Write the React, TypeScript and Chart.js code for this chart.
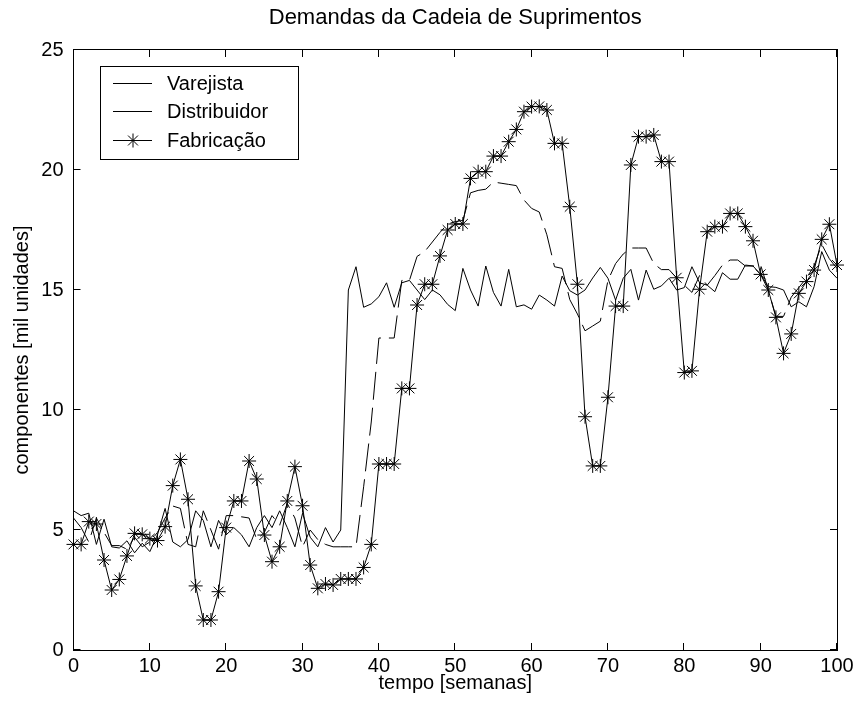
import React, { useEffect, useRef } from "react";
import { Chart, registerables } from "chart.js";

Chart.register(...registerables);

const weeks = [
  0, 1, 2, 3, 4, 5, 6, 7, 8, 9, 10, 11, 12, 13, 14, 15, 16, 17, 18, 19, 20,
  21, 22, 23, 24, 25, 26, 27, 28, 29, 30, 31, 32, 33, 34, 35, 36, 37, 38, 39, 40,
  41, 42, 43, 44, 45, 46, 47, 48, 49, 50, 51, 52, 53, 54, 55, 56, 57, 58, 59, 60,
  61, 62, 63, 64, 65, 66, 67, 68, 69, 70, 71, 72, 73, 74, 75, 76, 77, 78, 79, 80,
  81, 82, 83, 84, 85, 86, 87, 88, 89, 90, 91, 92, 93, 94, 95, 96, 97, 98, 99, 100,
];

const varejista = [
  5.8, 5.6, 5.7, 4.4, 5.45, 4.3, 4.25, 4.55, 4.05, 4.45, 4.1,
  4.8, 5.9, 4.5, 4.3, 4.6, 5.8, 5.4, 4.3, 5.4, 4.8,
  5.1, 4.8, 4.3, 5.1, 5.6, 5.1, 5.8, 5.1, 4.3, 5.7,
  4.7, 4.3, 5.1, 4.5, 5.0, 15.0, 15.97, 14.28, 14.42, 14.72,
  15.3, 14.28, 15.3, 15.4, 15.0, 14.6, 15.0, 14.8, 14.4, 14.14,
  15.9, 15.0, 14.33, 16.0, 14.9, 14.33, 15.86, 14.3, 14.38, 14.2,
  14.79, 14.58, 14.33, 15.58, 14.97, 14.79, 15.0, 15.5, 15.94, 15.49,
  14.58, 15.49, 15.86, 14.58, 15.83, 15.03, 15.17, 15.49, 15.0, 15.1,
  15.97, 15.3, 15.2, 14.93, 15.72, 15.45, 15.45, 16.04, 16.0, 15.65,
  15.14, 15.11, 15.0, 14.3, 14.51, 14.3, 15.14, 16.6, 15.83, 15.49,
];

const distribuidor = [
  5.5, 5.1, 4.5, 5.5, 4.9, 4.35, 4.35, 4.2, 4.7, 4.3, 4.5,
  4.9, 5.5, 6.0, 5.9, 4.4, 4.3, 5.8, 5.0, 4.2, 5.6,
  5.6, 5.55, 5.5, 4.6, 4.9, 5.6, 5.2, 6.1, 5.5, 4.3,
  5.0, 4.6, 4.4, 4.3, 4.3, 4.3, 4.3, 6.8, 9.5, 13.0,
  13.0, 13.0, 15.4, 15.4, 16.4, 16.6, 17.0, 17.4, 17.75, 17.85,
  17.9, 19.05, 19.15, 19.2, 19.5, 19.45, 19.4, 19.35, 18.75, 18.4,
  18.25, 17.3, 15.97, 15.9, 14.6, 14.0, 13.3, 13.5, 13.7, 15.4,
  16.1, 16.5, 16.75, 16.75, 16.75, 16.1, 15.85, 15.85, 15.5, 15.2,
  14.9, 15.6, 15.2, 15.6, 16.04, 16.25, 16.25, 16.0, 16.0, 16.04,
  15.0, 13.9, 13.9, 14.7, 15.1, 15.5, 16.0, 16.9, 16.3, 15.9,
];

const fabricacao = [
  4.4, 4.4, 5.35, 5.25, 3.75, 2.5, 2.94, 3.92, 4.86, 4.82, 4.64,
  4.56, 5.14, 6.85, 7.94, 6.28, 2.67, 1.25, 1.25, 2.43, 5.1,
  6.21, 6.21, 7.875, 7.125, 4.79, 3.68, 4.3, 6.21, 7.64, 6.01,
  3.54, 2.57, 2.75, 2.71, 2.96, 2.96, 2.96, 3.44, 4.4, 7.75,
  7.75, 7.75, 10.9, 10.9, 14.375, 15.24, 15.24, 16.42, 17.5, 17.75,
  17.75, 19.65, 19.93, 19.93, 20.58, 20.58, 21.18, 21.69, 22.43, 22.64,
  22.65, 22.5, 21.11, 21.11, 18.47, 15.24, 9.72, 7.67, 7.67, 10.53,
  14.33, 14.33, 20.21, 21.39, 21.39, 21.46, 20.35, 20.35, 15.51, 11.56,
  11.63, 15.03, 17.43, 17.64, 17.64, 18.19, 18.19, 17.64, 17.05, 15.65,
  15.0, 13.86, 12.36, 13.17, 14.86, 15.35, 15.83, 17.11, 17.74, 16.04,
];

const xTicks = [0, 10, 20, 30, 40, 50, 60, 70, 80, 90, 100];
const yTicks = [0, 5, 10, 15, 20, 25];
const seriesNames = ["Varejista", "Distribuidor", "Fabricação"];
const chartTitle = "Demandas da Cadeia de Suprimentos";
const xTitle = "tempo [semanas]";
const yTitle = "componentes [mil unidades]";

const FONT = "'Liberation Sans', Arial, Helvetica, sans-serif";
const FS = 20;

function drawStar(ctx: CanvasRenderingContext2D, x: number, y: number, r: number) {
  const d = r * Math.SQRT1_2;
  ctx.beginPath();
  ctx.moveTo(x - r, y);
  ctx.lineTo(x + r, y);
  ctx.moveTo(x, y - r);
  ctx.lineTo(x, y + r);
  ctx.moveTo(x - d, y - d);
  ctx.lineTo(x + d, y + d);
  ctx.moveTo(x - d, y + d);
  ctx.lineTo(x + d, y - d);
  ctx.stroke();
}

export default function App() {
  const ref = useRef<HTMLCanvasElement>(null);

  useEffect(() => {
    const canvas = ref.current;
    if (!canvas) return;
    const toXY = (arr: number[]) => arr.map((v, i) => ({ x: weeks[i], y: v }));

    const framePlugin = {
      id: "frame",
      afterDraw(chart: any) {
        const { ctx, chartArea } = chart;
        const xs = chart.scales.x;
        const ys = chart.scales.y;
        const { left, right, top, bottom } = chartArea;
        ctx.save();
        ctx.strokeStyle = "#000";
        ctx.lineWidth = 1;
        ctx.setLineDash([]);
        ctx.strokeRect(
          Math.round(left) - 0.5,
          Math.round(top) - 0.5,
          Math.round(right) - Math.round(left) + 1,
          Math.round(bottom) - Math.round(top) + 1
        );
        const tl = 7;
        ctx.beginPath();
        xTicks.forEach((v) => {
          const px = Math.round(xs.getPixelForValue(v)) - 0.5;
          ctx.moveTo(px, bottom);
          ctx.lineTo(px, bottom - tl);
          ctx.moveTo(px, top);
          ctx.lineTo(px, top + tl);
        });
        yTicks.forEach((v) => {
          const py = Math.round(ys.getPixelForValue(v)) - 0.5;
          ctx.moveTo(left, py);
          ctx.lineTo(left + tl, py);
          ctx.moveTo(right, py);
          ctx.lineTo(right - tl, py);
        });
        ctx.stroke();

        // title
        ctx.fillStyle = "#000";
        ctx.font = `${FS + 2}px ${FONT}`;
        ctx.textAlign = "center";
        ctx.textBaseline = "middle";
        ctx.fillText(chartTitle, (left + right) / 2, 10);

        // legend
        const bx = 92.5, by = 58.5, bw = 198, bh = 93;
        ctx.fillStyle = "#fff";
        ctx.fillRect(bx, by, bw, bh);
        ctx.strokeRect(bx, by, bw, bh);
        const rows = [75.5, 103.5, 132.5];
        ctx.font = `${FS}px ${FONT}`;
        ctx.textAlign = "left";
        ctx.textBaseline = "middle";
        rows.forEach((ry, i) => {
          ctx.beginPath();
          ctx.moveTo(105, ry);
          ctx.lineTo(144, ry);
          ctx.stroke();
          if (i === 2) drawStar(ctx, 125, ry, 7);
          ctx.fillStyle = "#000";
          ctx.fillText(seriesNames[i], 159, ry + 1);
        });
        ctx.restore();
      },
    };

    const chart = new Chart(canvas, {
      type: "line",
      data: {
        datasets: [
          {
            label: seriesNames[0],
            data: toXY(varejista),
            borderColor: "#000",
            borderWidth: 1,
            pointRadius: 0,
            tension: 0,
            fill: false,
          },
          {
            label: seriesNames[1],
            data: toXY(distribuidor),
            borderColor: "#000",
            borderWidth: 1,
            borderDash: [28, 8],
            pointRadius: 0,
            tension: 0,
            fill: false,
          },
          {
            label: seriesNames[2],
            data: toXY(fabricacao),
            borderColor: "#000",
            borderWidth: 1,
            pointStyle: "star",
            pointRadius: 7,
            pointBorderColor: "#000",
            pointBackgroundColor: "#000",
            pointBorderWidth: 1,
            tension: 0,
            fill: false,
            clip: false,
          },
        ],
      } as any,
      options: {
        responsive: false,
        maintainAspectRatio: false,
        animation: false,
        events: [],
        layout: { padding: { top: 42, right: 16, left: 0, bottom: 0 } },
        plugins: {
          legend: { display: false },
          title: { display: false },
          tooltip: { enabled: false },
        },
        scales: {
          x: {
            type: "linear",
            min: 0,
            max: 100,
            afterBuildTicks: (s: any) => {
              s.ticks = xTicks.map((v) => ({ value: v }));
            },
            afterFit: (s: any) => {
              s.height = 57;
              s.paddingRight = 16;
            },
            grid: { display: false, drawTicks: false },
            border: { display: false },
            ticks: {
              color: "#000",
              font: { family: FONT, size: FS },
              padding: 4,
              maxRotation: 0,
              autoSkip: false,
            },
            title: {
              display: true,
              text: xTitle,
              color: "#000",
              font: { family: FONT, size: FS },
              padding: { top: 0, bottom: 12 },
            },
          },
          y: {
            type: "linear",
            min: 0,
            max: 25,
            afterBuildTicks: (s: any) => {
              s.ticks = yTicks.map((v) => ({ value: v }));
            },
            afterFit: (s: any) => {
              s.width = 65.5;
            },
            grid: { display: false, drawTicks: false },
            border: { display: false },
            ticks: {
              color: "#000",
              font: { family: FONT, size: FS },
              padding: 10,
            },
            title: {
              display: true,
              text: yTitle,
              color: "#000",
              font: { family: FONT, size: FS },
              padding: { top: 2, bottom: 0 },
            },
          },
        },
      } as any,
      plugins: [framePlugin],
    });

    return () => chart.destroy();
  }, []);

  return (
    <div style={{ width: 845, height: 699 }}>
      <canvas ref={ref} width={845} height={699} style={{ display: "block" }} />
    </div>
  );
}
